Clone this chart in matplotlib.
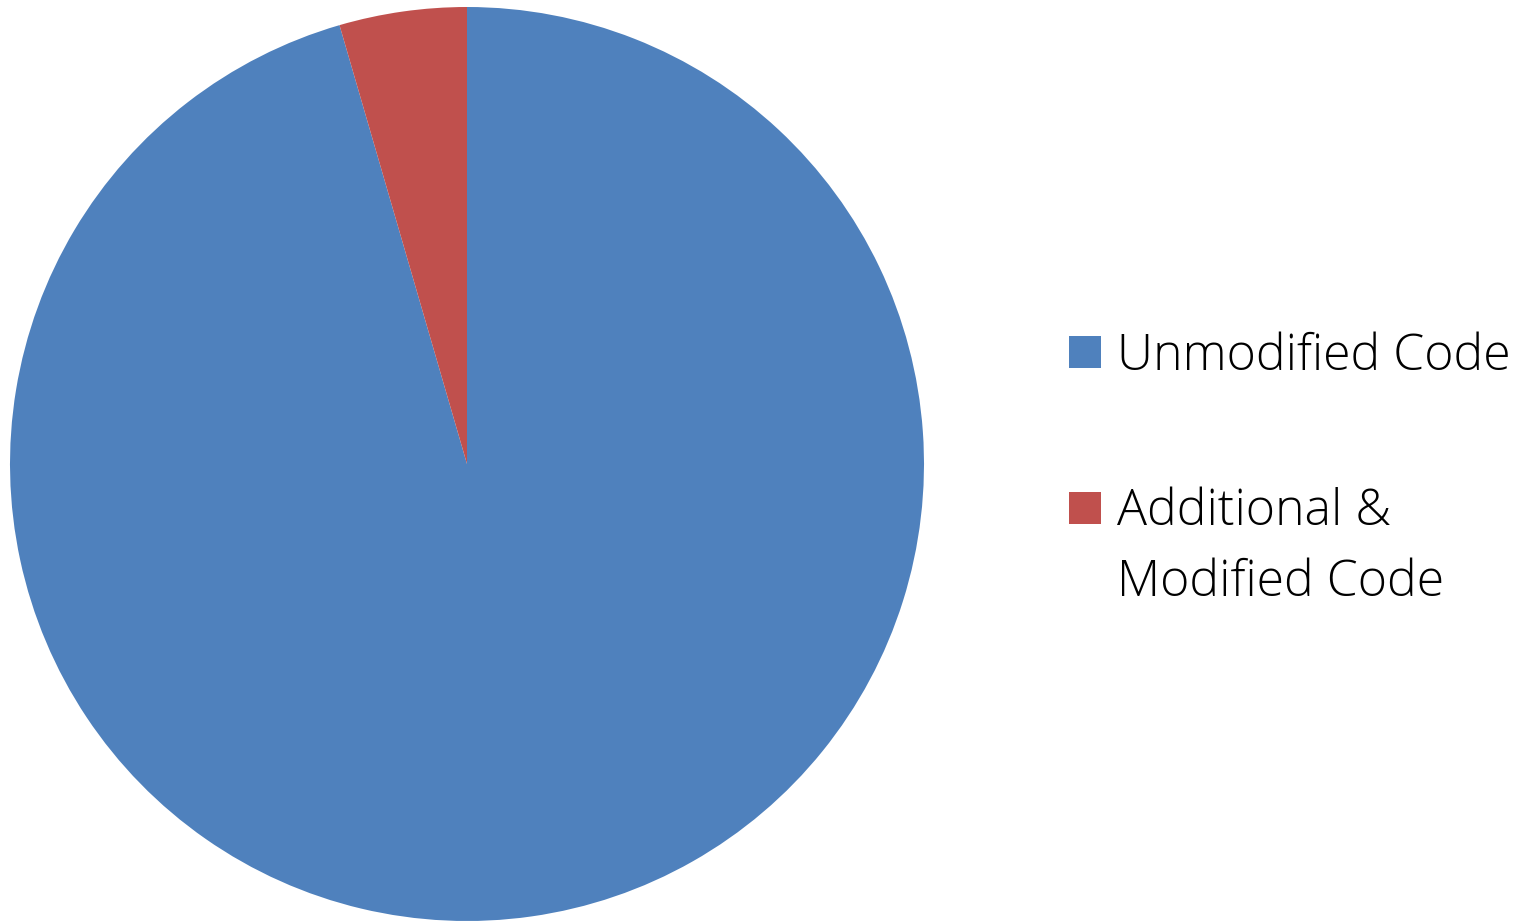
import matplotlib.pyplot as plt
from matplotlib.patches import Rectangle

labels = ["Unmodified Code", "Additional &\nModified Code"]
shares = [95.5, 4.5]
colors = ["#4F81BD", "#C0504D"]

W, H = 1527, 922
fig = plt.figure(figsize=(W / 100, H / 100), dpi=100)

# pie axes: centre (467, 464) px, radius 457 px
cx, cy, r = 467, 464, 457
ax = fig.add_axes([(cx - r) / W, (H - cy - r) / H, 2 * r / W, 2 * r / H])
ax.pie(shares, colors=colors, startangle=90, counterclock=False, radius=1,
       wedgeprops=dict(linewidth=0))
ax.set_xlim(-1, 1)
ax.set_ylim(-1, 1)
ax.set_aspect("equal")
ax.axis("off")

# legend drawn by hand
font = dict(family=["Open Sans", "DejaVu Sans"], fontsize=36, color="black",
            fontweight="light")
sq = 32
rows = [(352, 370), (508, 525)]
for (sq_y, base_y), lab, col in zip(rows, labels, colors):
    fig.patches.append(Rectangle((1069 / W, (H - sq_y - sq / 2) / H), sq / W, sq / H,
                                 transform=fig.transFigure, facecolor=col,
                                 edgecolor="none"))
    for i, line in enumerate(lab.split("\n")):
        fig.text(1117 / W, (H - base_y - 71 * i) / H, line, va="baseline",
                 ha="left", **font)

fig.savefig("out.png", dpi=100)
